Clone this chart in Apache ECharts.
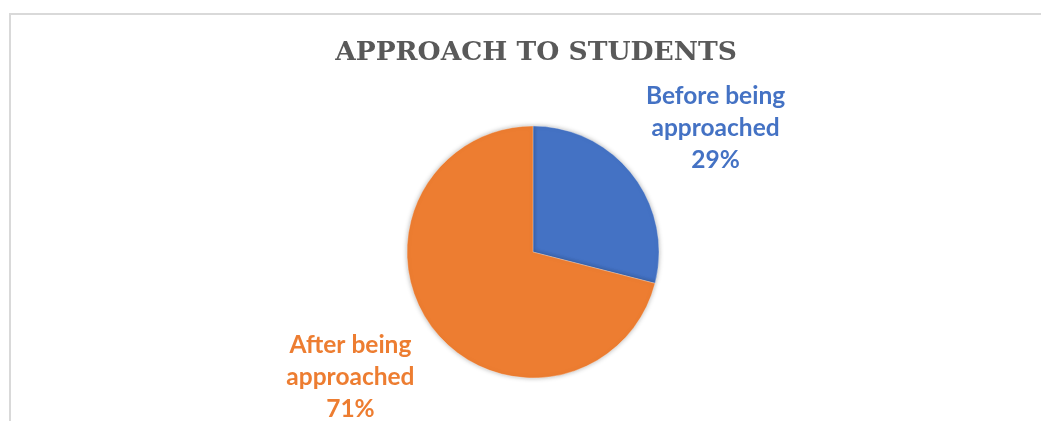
<!DOCTYPE html>
<html>
<head>
<meta charset="utf-8">
<script src="https://cdn.jsdelivr.net/npm/echarts@6/dist/echarts.min.js"></script>
<style>
html,body{margin:0;padding:0;background:#fff;}
#wrap{position:relative;width:1041px;height:421px;overflow:hidden;}
#frame{position:absolute;left:9px;top:13px;width:1100px;height:500px;border-left:2px solid #d9d9d9;border-top:2px solid #d9d9d9;box-sizing:border-box;}
#chart{position:absolute;left:0;top:0;width:1041px;height:421px;}
</style>
</head>
<body>
<div id="wrap"><div id="frame"></div><div id="chart"></div></div>
<script>
const titleText = 'APPROACH TO STUDENTS';
const categories = ['Before being approached', 'After being approached'];
const values = [29, 71];
const colors = ['#4472C4', '#ED7D31'];

const chart = echarts.init(document.getElementById('chart'), null, {renderer: 'canvas'});
const cx = 533, cy = 252, radius = 126;
const total = values.reduce((a, b) => a + b, 0);
function midAngle(i) {
  let before = 0;
  for (let k = 0; k < i; k++) before += values[k];
  return ((before + values[i] / 2) / total) * 360;
}
chart.setOption({
  backgroundColor: 'transparent',
  title: {
    text: titleText,
    left: 531,
    textAlign: 'center',
    top: 35,
    textStyle: {fontFamily: 'DejaVu Serif', fontWeight: 'bold', fontSize: 26.5, color: '#595959'}
  },
  series: [{
    type: 'pie',
    center: [cx, cy],
    radius: radius,
    startAngle: 90,
    clockwise: true,
    animation: false,
    data: categories.map((c, i) => ({name: c, value: values[i], itemStyle: {color: colors[i]}})),
    itemStyle: {shadowBlur: 5, shadowColor: 'rgba(0,0,0,0.3)', borderColor: '#fff', borderWidth: 0.3},
    label: {
      show: true,
      position: 'outside',
      formatter: p => {
        const w = p.name.split(' ');
        return w.slice(0, -1).join(' ') + '\n' + w[w.length - 1] + '\n' + Math.round(p.percent) + '%';
      },
      fontFamily: 'Lato',
      fontWeight: 'bold',
      fontSize: 24.5,
      lineHeight: 32,
      align: 'center',
      color: 'inherit'
    },
    labelLine: {show: false},
    labelLayout: params => {
      const a = (midAngle(params.dataIndex) + 3.5) * Math.PI / 180;
      const r = 221;
      return {x: cx + r * Math.sin(a), y: cy - r * Math.cos(a) + 1, align: 'center', verticalAlign: 'middle'};
    }
  }]
});
</script>
</body>
</html>
